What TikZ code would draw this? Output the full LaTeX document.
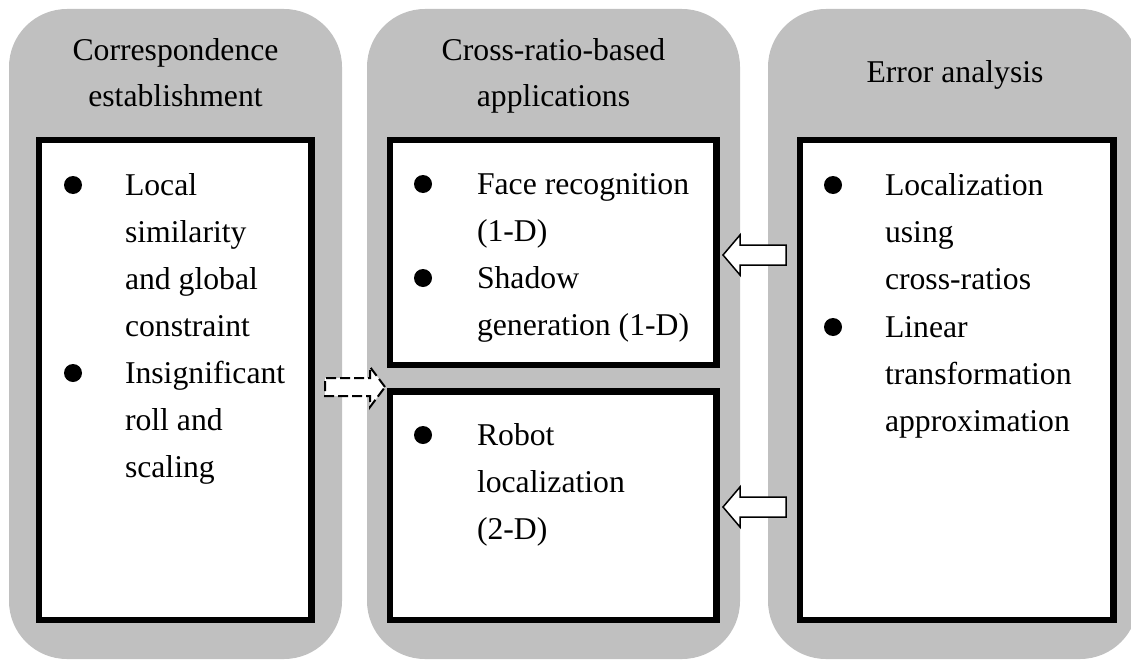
\documentclass[tikz,border=0pt]{standalone}
\usepackage{fontspec}
\setmainfont{Liberation Serif}
\definecolor{panelgray}{HTML}{C0C0C0}
\begin{document}
\begin{tikzpicture}[x=1pt,y=-1pt,
  panel/.style={fill=panelgray, draw=none, rounded corners=58pt, inner sep=0pt, outer sep=0pt, minimum height=650pt},
  box/.style={draw=black, line width=6.5pt, fill=white, inner sep=0pt, outer sep=0pt},
  txt/.style={anchor=base west, inner sep=0pt, outer sep=0pt, font=\fontsize{31.7}{47}\selectfont},
  ttl/.style={anchor=base, inner sep=0pt, outer sep=0pt, font=\fontsize{31.7}{47}\selectfont},
  dot/.style={circle, fill=black, draw=none, minimum size=18pt, inner sep=0pt},
  hollow/.style={draw=black, fill=white, line width=1.5pt, line join=miter},
  dasharrow/.style={hollow, line width=2pt, dash pattern=on 10pt off 4pt}]
\useasboundingbox (0,0) rectangle (1131,661);
\clip (0,0) rectangle (1131,661);
% panels
\node[panel, minimum width=333pt] (p1) at (175.5,334) {};
\node[panel, minimum width=373pt] (p2) at (553.5,334) {};
\node[panel, minimum width=370pt] (p3) at (953,334) {};
% titles
\node[ttl] (t1a) at (175.5,60) {Correspondence};
\node[ttl] (t1b) at (175.5,106) {establishment};
\node[ttl] (t2a) at (553.5,60) {Cross-ratio-based};
\node[ttl] (t2b) at (553.5,106) {applications};
\node[ttl] (t3a) at (955,82) {Error analysis};
% boxes
\node[box, minimum width=272.5pt, minimum height=480pt] (bl) at (175.25,380) {};
\node[box, minimum width=326.5pt, minimum height=225pt] (bmt) at (553.25,252.5) {};
\node[box, minimum width=326.5pt, minimum height=228.5pt] (bmb) at (553.25,505.75) {};
\node[box, minimum width=313.5pt, minimum height=480pt] (br) at (956.75,380) {};
% left items
\node[dot] (dl1) at (73,185) {};
\node[txt] (l1) at (125,195) {Local};
\node[txt] (l2) at (125,242) {similarity};
\node[txt] (l3) at (125,289) {and global};
\node[txt] (l4) at (125,336) {constraint};
\node[dot] (dl2) at (73,373) {};
\node[txt] (l5) at (125,383) {Insignificant};
\node[txt] (l6) at (125,430) {roll and};
\node[txt] (l7) at (125,477) {scaling};
% middle top items
\node[dot] (dm1) at (423,184) {};
\node[txt] (m1) at (477,194) {Face recognition};
\node[txt] (m2) at (477,241) {(1-D)};
\node[dot] (dm2) at (423,278) {};
\node[txt] (m3) at (477,288) {Shadow};
\node[txt] (m4) at (477,335) {generation (1-D)};
% middle bottom items
\node[dot] (dm3) at (423,435) {};
\node[txt] (m5) at (477,445) {Robot};
\node[txt] (m6) at (477,492) {localization};
\node[txt] (m7) at (477,539) {(2-D)};
% right items
\node[dot] (dr1) at (833,185) {};
\node[txt] (r1) at (885,195) {Localization};
\node[txt] (r2) at (885,242) {using};
\node[txt] (r3) at (885,289) {cross-ratios};
\node[dot] (dr2) at (833,327) {};
\node[txt] (r4) at (885,337) {Linear};
\node[txt] (r5) at (885,384) {transformation};
\node[txt] (r6) at (885,431) {approximation};
% arrows
\coordinate (a1) at (723,255);
\coordinate (a2) at (723,507);
\coordinate (a3) at (385,387);
\draw[hollow] (a1) -- ++(17,-20) -- ++(0,10) -- ++(46,0) -- ++(0,20) -- ++(-46,0) -- ++(0,10) -- cycle;
\draw[hollow] (a2) -- ++(17,-20) -- ++(0,10) -- ++(46,0) -- ++(0,20) -- ++(-46,0) -- ++(0,10) -- cycle;
\draw[dasharrow] (a3) -- ++(-15,-20) -- ++(0,11) -- ++(-45,0) -- ++(0,18) -- ++(45,0) -- ++(0,11) -- cycle;
\end{tikzpicture}
\end{document}
